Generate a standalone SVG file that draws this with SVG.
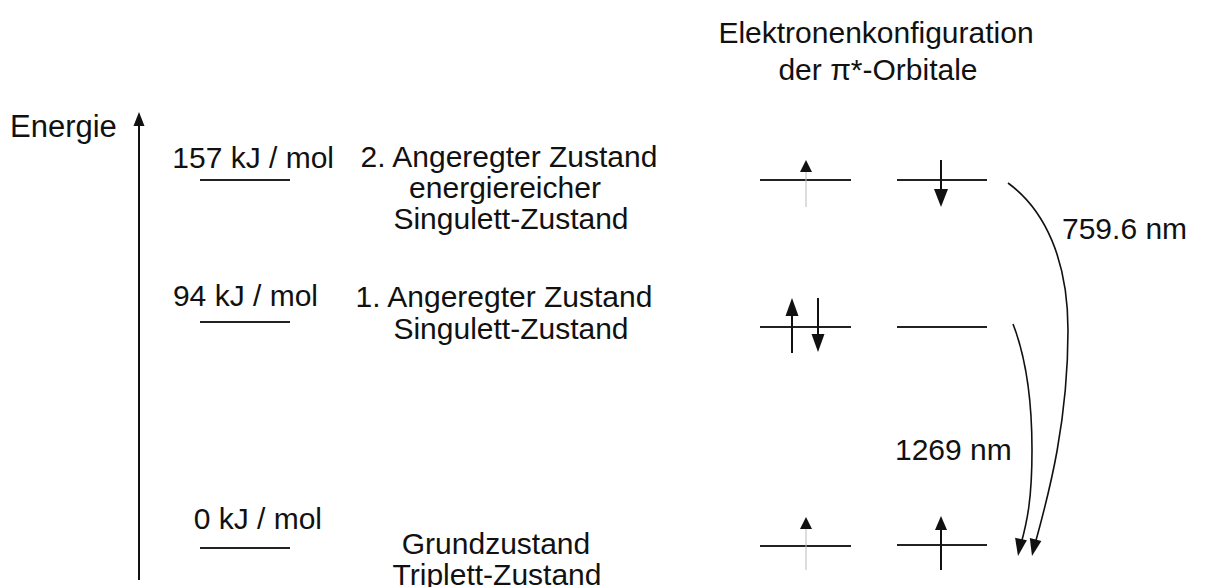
<svg xmlns="http://www.w3.org/2000/svg" width="1208" height="587" viewBox="0 0 1208 587">
<style>
text{font-family:"Liberation Sans",Arial,sans-serif;font-size:30px;fill:#111}
.c{text-anchor:middle}
.e{text-anchor:end}
.lvl{stroke:#222;stroke-width:2;fill:none}
.stem{stroke:#111;stroke-width:2;fill:none}
.ghost{stroke:#bbb;stroke-width:1;fill:none}
.head{fill:#111;stroke:none}
.curve{stroke:#111;stroke-width:1.6;fill:none}
</style>
<rect width="1208" height="587" fill="#fff"/>
<g id="title">
<text class="c" x="876" y="43">Elektronenkonfiguration</text>
<text class="c" x="878" y="80">der π*-Orbitale</text>
</g>
<g id="axis">
<text x="10" y="137" style="font-size:31px">Energie</text>
<line class="stem" x1="139" y1="580" x2="139" y2="124"/>
<polygon class="head" points="139,112 133.5,126 144.5,126"/>
</g>
<g id="level-157">
<text class="e" x="334" y="168">157 kJ / mol</text>
<line class="lvl" x1="200" y1="180" x2="290" y2="180"/>
</g>
<g id="state-2">
<text class="c" x="509" y="167">2. Angeregter Zustand</text>
<text class="c" x="505" y="198">energiereicher</text>
<text class="c" x="511" y="229">Singulett-Zustand</text>
</g>
<g id="level-94">
<text class="e" x="318" y="306">94 kJ / mol</text>
<line class="lvl" x1="200" y1="322" x2="290" y2="322"/>
</g>
<g id="state-1">
<text class="c" x="504" y="307">1. Angeregter Zustand</text>
<text class="c" x="511" y="339">Singulett-Zustand</text>
</g>
<g id="level-0">
<text class="e" x="322" y="529">0 kJ / mol</text>
<line class="lvl" x1="200" y1="548" x2="290" y2="548"/>
</g>
<g id="state-0">
<text class="c" x="496" y="554">Grundzustand</text>
<text class="c" x="497" y="585">Triplett-Zustand</text>
</g>
<g id="orbitals-2">
<line class="lvl" x1="760" y1="180" x2="851" y2="180"/>
<line class="lvl" x1="897" y1="180" x2="987" y2="180"/>
<line class="ghost" x1="806" y1="170" x2="806" y2="207"/>
<polygon class="head" points="806,160 800,172 812,172"/>
<line class="stem" x1="941" y1="160" x2="941" y2="192"/>
<polygon class="head" points="941,207 934,189 948,189"/>
</g>
<g id="orbitals-1">
<line class="lvl" x1="760" y1="327" x2="851" y2="327"/>
<line class="lvl" x1="897" y1="327" x2="987" y2="327"/>
<line class="stem" x1="792" y1="353" x2="792" y2="312"/>
<polygon class="head" points="792,298 785.5,316 798.5,316"/>
<line class="stem" x1="818" y1="298" x2="818" y2="338"/>
<polygon class="head" points="818,352 811.5,334 824.5,334"/>
</g>
<g id="orbitals-0">
<line class="lvl" x1="760" y1="546" x2="851" y2="546"/>
<line class="lvl" x1="897" y1="545" x2="987" y2="545"/>
<line class="ghost" x1="806" y1="528" x2="806" y2="570"/>
<polygon class="head" points="806,517 800,529 812,529"/>
<line class="stem" x1="941" y1="570" x2="941" y2="528"/>
<polygon class="head" points="941,516 935,530 947,530"/>
</g>
<g id="connectors">
<path class="curve" d="M1008,183 C1045,210 1068,260 1068,330 C1068,420 1050,490 1035,544"/>
<polygon class="head" points="1032,556 1041.4,541 1029.8,538"/>
<path class="curve" d="M1013,324 C1025,355 1032,400 1032,450 C1032,500 1027,522 1021,544"/>
<polygon class="head" points="1018,556 1026.9,540.2 1015.1,537.8"/>
<text x="1062" y="239">759.6 nm</text>
<text x="895" y="460">1269 nm</text>
</g>
</svg>
